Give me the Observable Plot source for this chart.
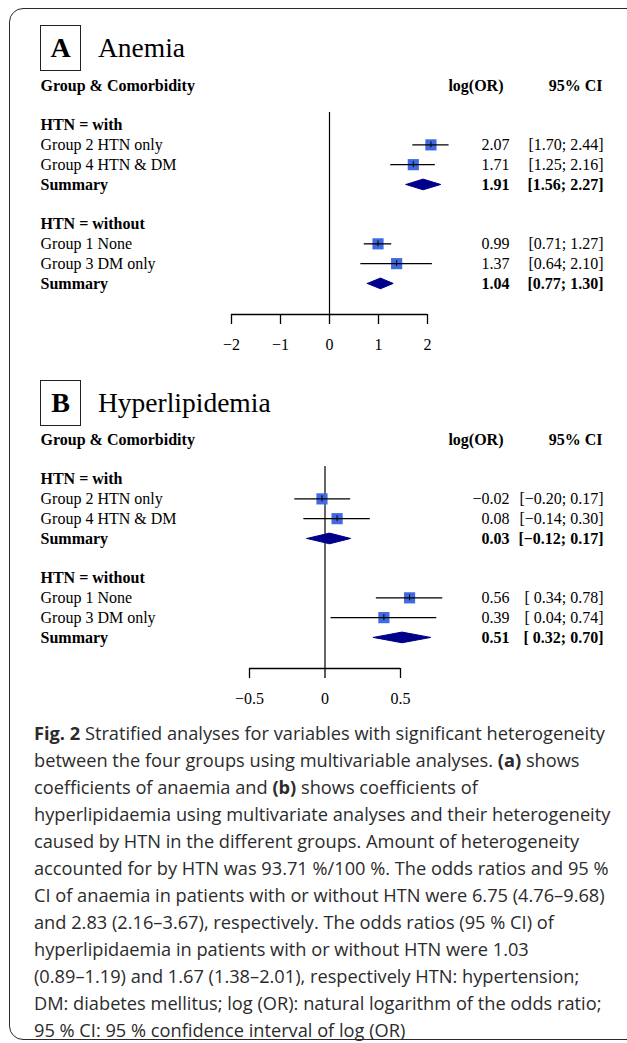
<!DOCTYPE html>
<html><head><meta charset="utf-8">
<script src="https://cdn.jsdelivr.net/npm/d3@7"></script>
<script src="https://cdn.jsdelivr.net/npm/@observablehq/plot@0.6"></script>
<style>
html,body{margin:0;padding:0;background:#fff;}
body{width:627px;height:1043px;position:relative;overflow:hidden;}
#border{position:absolute;left:9px;top:8px;width:700px;height:1032px;border:1.5px solid #2a2a2a;border-radius:14px;box-sizing:border-box;}
.pbox{position:absolute;left:40px;width:41px;height:46px;border:1.5px solid #222;box-sizing:border-box;font:bold 28px "Liberation Serif",serif;display:flex;align-items:center;justify-content:center;color:#000;}
.ptitle{position:absolute;left:98px;font:27.5px "Liberation Serif",serif;line-height:28px;color:#000;}
.panel{position:absolute;left:0;}
#caption{position:absolute;left:34px;top:720px;font-family:"Open Sans",sans-serif;font-size:17px;line-height:27px;color:#2b2b2b;white-space:nowrap;}
#caption div{width:max-content;}
#caption b{font-weight:700;}
</style></head><body>
<div id="border"></div>
<div class="pbox" style="top:25px">A</div>
<div class="ptitle" style="top:34px">Anemia</div>
<div class="panel" id="panelA" style="top:70px"></div>
<div class="pbox" style="top:380px">B</div>
<div class="ptitle" style="top:389px">Hyperlipidemia</div>
<div class="panel" id="panelB" style="top:424px"></div>
<div id="caption">
<div><b>Fig. 2</b> Stratified analyses for variables with significant heterogeneity</div>
<div>between the four groups using multivariable analyses. <b>(a)</b> shows</div>
<div>coefficients of anaemia and <b>(b)</b> shows coefficients of</div>
<div>hyperlipidaemia using multivariate analyses and their heterogeneity</div>
<div>caused by HTN in the different groups. Amount of heterogeneity</div>
<div>accounted for by HTN was 93.71 %/100 %. The odds ratios and 95 %</div>
<div>CI of anaemia in patients with or without HTN were 6.75 (4.76–9.68)</div>
<div>and 2.83 (2.16–3.67), respectively. The odds ratios (95 % CI) of</div>
<div>hyperlipidaemia in patients with or without HTN were 1.03</div>
<div>(0.89–1.19) and 1.67 (1.38–2.01), respectively HTN: hypertension;</div>
<div>DM: diabetes mellitus; log (OR): natural logarithm of the odds ratio;</div>
<div>95 % CI: 95 % confidence interval of log (OR)</div>
</div>
<script>
// ---- data ----
const strataLabels = ["with", "without"];
const groups = ["Group 2 HTN only", "Group 4 HTN & DM", "Group 1 None", "Group 3 DM only"];
const groupStrata = ["with", "with", "without", "without"];

const anemiaLogOR = [2.07, 1.71, 0.99, 1.37];
const anemiaLower = [1.70, 1.25, 0.71, 0.64];
const anemiaUpper = [2.44, 2.16, 1.27, 2.10];
const anemiaSummaryLogOR = [1.91, 1.04];
const anemiaSummaryLower = [1.56, 0.77];
const anemiaSummaryUpper = [2.27, 1.30];
const anemiaTicks = [-2, -1, 0, 1, 2];

const hyperLogOR = [-0.02, 0.08, 0.56, 0.39];
const hyperLower = [-0.20, -0.14, 0.34, 0.04];
const hyperUpper = [0.17, 0.30, 0.78, 0.74];
const hyperSummaryLogOR = [0.03, 0.51];
const hyperSummaryLower = [-0.12, 0.32];
const hyperSummaryUpper = [0.17, 0.70];
const hyperTicks = [-0.5, 0, 0.5];

const headerLeft = "Group & Comorbidity";
const headerEst = "log(OR)";
const headerCI = "95% CI";

// ---- helpers ----
const num = v => (v < 0 ? "\u2212" + Math.abs(v).toFixed(2) : v.toFixed(2));
const tickFmt = v => (v < 0 ? "\u2212" + Math.abs(v) : String(v));

function buildRows(est, lo, hi, sEst, sLo, sHi) {
  const rows = [];
  let i = 2;
  strataLabels.forEach((s, k) => {
    rows.push({row: i++, label: `HTN = ${s}`, kind: "heading"});
    groups.forEach((g, j) => {
      if (groupStrata[j] === s) rows.push({row: i++, label: g, kind: "study", est: est[j], lo: lo[j], hi: hi[j]});
    });
    rows.push({row: i++, label: "Summary", kind: "summary", est: sEst[k], lo: sLo[k], hi: sHi[k]});
    i++;
  });
  const padLo = rows.some(d => d.lo < 0);
  const padHi = rows.some(d => d.hi < 0);
  rows.forEach(d => {
    if (d.kind === "heading") return;
    const l = (padLo && d.lo >= 0 ? "\u00a0" : "") + num(d.lo);
    const h = (padHi && d.hi >= 0 ? "\u00a0" : "") + num(d.hi);
    d.estText = num(d.est);
    d.ciText = `[${l}; ${h}]`;
  });
  return rows;
}

function forest(el, rows, {domain, ticks, marginLeft, marginRight}) {
  const width = 627, height = 290, marginTop = 15, marginBottom = 46;
  const axisRow = 11.57, half = 0.27;
  const rightEdge = width - marginRight;
  const studies = rows.filter(d => d.kind === "study");
  const sums = rows.filter(d => d.kind === "summary");
  const bold = rows.filter(d => d.kind !== "study");
  const firstRow = rows[0].row;
  const diamonds = sums.flatMap((d, k) => [
    {x: d.lo, y: d.row, k}, {x: d.est, y: d.row - half, k},
    {x: d.hi, y: d.row, k}, {x: d.est, y: d.row + half, k}, {x: d.lo, y: d.row, k}
  ]);
  const header = [{row: 0}];
  const labelDx = 40 - marginLeft;
  const estDx = 509 - rightEdge;
  const ciDx = 603 - rightEdge;
  const chart = Plot.plot({
    width, height, marginTop, marginBottom, marginLeft, marginRight,
    style: {fontFamily: '"Liberation Serif", serif', fontSize: "16px", color: "#000", background: "transparent", overflow: "visible"},
    x: {domain, axis: null, label: null},
    y: {domain: [0, axisRow], reverse: true, axis: null, label: null},
    marks: [
      Plot.ruleX([0], {y1: firstRow - 0.64, y2: axisRow, stroke: "#000", strokeWidth: 1.2}),
      Plot.dot(studies, {x: "est", y: "row", symbol: "square", r: 6.3, fill: "#4169E1", stroke: null}),
      Plot.ruleY(studies, {y: "row", x1: "lo", x2: "hi", stroke: "#000", strokeWidth: 1.3}),
      Plot.ruleX(studies, {x: "est", y1: d => d.row - 0.15, y2: d => d.row + 0.15, stroke: "#000", strokeWidth: 1}),
      Plot.line(diamonds, {x: "x", y: "y", z: "k", fill: "#00008B", stroke: "#00008B", strokeWidth: 1, curve: "linear"}),
      Plot.ruleY([axisRow], {stroke: "#000", strokeWidth: 1.3}),
      Plot.axisX({ticks, tickSize: 10, tickPadding: 14, tickFormat: tickFmt, label: null, stroke: "#000", strokeWidth: 1.3, fontSize: 16}),
      Plot.text(header, {y: "row", text: () => headerLeft, frameAnchor: "left", dx: labelDx, textAnchor: "start", fontWeight: "bold"}),
      Plot.text(header, {y: "row", text: () => headerEst, frameAnchor: "right", dx: 503 - rightEdge, textAnchor: "end", fontWeight: "bold"}),
      Plot.text(header, {y: "row", text: () => headerCI, frameAnchor: "right", dx: 602 - rightEdge, textAnchor: "end", fontWeight: "bold"}),
      Plot.text(studies, {y: "row", text: "label", frameAnchor: "left", dx: labelDx, textAnchor: "start"}),
      Plot.text(bold, {y: "row", text: "label", frameAnchor: "left", dx: labelDx, textAnchor: "start", fontWeight: "bold"}),
      Plot.text(studies, {y: "row", text: "estText", frameAnchor: "right", dx: estDx, textAnchor: "end"}),
      Plot.text(studies, {y: "row", text: "ciText", frameAnchor: "right", dx: ciDx, textAnchor: "end"}),
      Plot.text(sums, {y: "row", text: "estText", frameAnchor: "right", dx: estDx, textAnchor: "end", fontWeight: "bold"}),
      Plot.text(sums, {y: "row", text: "ciText", frameAnchor: "right", dx: ciDx, textAnchor: "end", fontWeight: "bold"})
    ]
  });
  el.appendChild(chart);
}

const anemiaRows = buildRows(anemiaLogOR, anemiaLower, anemiaUpper, anemiaSummaryLogOR, anemiaSummaryLower, anemiaSummaryUpper);
const hyperRows = buildRows(hyperLogOR, hyperLower, hyperUpper, hyperSummaryLogOR, hyperSummaryLower, hyperSummaryUpper);

forest(document.getElementById("panelA"), anemiaRows, {domain: [-2, 2], ticks: anemiaTicks, marginLeft: 231, marginRight: 200});
forest(document.getElementById("panelB"), hyperRows, {domain: [-0.5, 0.5], ticks: hyperTicks, marginLeft: 249, marginRight: 227});

// fit caption width to the reference's text block
const cap = document.getElementById("caption");
const w = cap.firstElementChild.getBoundingClientRect().width;
if (w > 0) cap.style.fontSize = (17 * 571 / w).toFixed(2) + "px";
</script>
</body></html>
